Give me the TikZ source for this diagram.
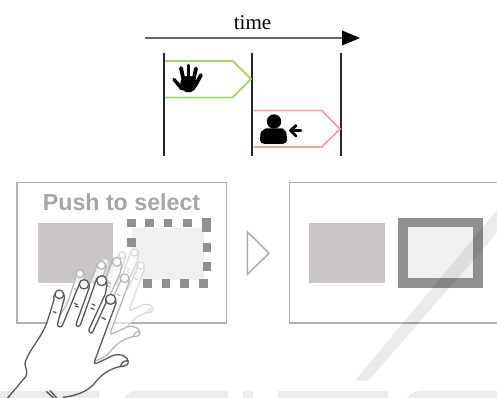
\documentclass[tikz,border=0pt]{standalone}
\usepackage{fontspec}
\setmainfont{Liberation Serif}
\newfontfamily\labelsans{Liberation Sans}
\definecolor{framegray}{HTML}{B0B0B0}
\definecolor{panelgray}{HTML}{C9C6C5}
\definecolor{lightpanel}{HTML}{F0F0F0}
\definecolor{selgray}{HTML}{909090}
\definecolor{labelgray}{HTML}{A6A6A6}
\definecolor{tgreen}{HTML}{A3D95B}
\definecolor{tred}{HTML}{F8A3A3}
\newcommand{\handoutline}{
 (22,685) -- (77,620) .. controls (88,600) and (68,590) .. (78,570)
 .. controls (95,530) and (125,500) .. (140,460) -- (162,390)
 .. controls (155,362) and (195,352) .. (193,385)
 -- (173,460) .. controls (170,473) and (186,475) .. (189,462)
 -- (237,345) .. controls (240,325) and (268,325) .. (268,352)
 -- (229,460) .. controls (226,472) and (240,473) .. (243,460)
 -- (287,335) .. controls (290,312) and (323,312) .. (321,345)
 -- (316,372) -- (267,478) .. controls (264,490) and (278,494) .. (280,482)
 -- (318,398) .. controls (310,370) and (350,370) .. (348,400)
 -- (285,570) .. controls (281,582) and (286,582) .. (294,578)
 -- (340,556) .. controls (365,550) and (385,560) .. (385,578)
 .. controls (382,590) and (368,588) .. (358,590)
 .. controls (325,598) and (305,615) .. (290,632)
 .. controls (270,660) and (240,675) .. (190,682)}
\newcommand{\handdetails}{
 \foreach \cx/\cy/\cr in {178/373/13,252/343/14,305/332/15,332/388/15}{
  \path[draw,fill=white] (\cx,\cy) circle[x radius=\cr,y radius=\cr];
 }
 \draw (362,590) .. controls (362,580) and (370,572) .. (384,572);
 \foreach \ax/\ay/\bx/\by in {160/425/168/428,223/400/232/404,276/402/284/406,272/414/282/418,306/443/316/448,226/408/235/411}{
  \draw (\ax,\ay) -- (\bx,\by);
 }
}
\tikzset{
 frame/.style={draw=framegray,line width=1.6pt,fill=white},
 dotsq/.style={fill=selgray,draw=none},
 vbar/.style={draw=black!85,line width=2pt},
 tagshape/.style={line width=1.9pt,fill=white},
 handline/.style={line width=1.3pt,line join=round,line cap=round},
 iconline/.style={draw=black,line cap=round,line join=round},
 wm/.style={fill=black,fill opacity=.08,draw=none}
}
\begin{document}
\begin{tikzpicture}[x=1pt,y=-1pt]
\useasboundingbox (0,0) rectangle (497,398);
% time axis
\coordinate (ts) at (145,38);
\coordinate (te) at (343,38);
\draw[line width=1.8pt,draw=black!60] (ts) -- (te);
\fill[black] (342,30.5) -- (360,38) -- (342,45.5) -- cycle;
\node[inner sep=0pt,font=\fontsize{21}{23}\selectfont] (timelabel) at (252.5,23) {time};
% vertical bars
\draw[vbar] (163.5,53) -- (163.5,156);
\draw[vbar] (252,53) -- (252,156);
\draw[vbar] (341,53) -- (341,156);
% tags
\draw[tagshape,draw=tgreen] (165,61) -- (232.7,61) -- (251,79) -- (232.7,97.5) -- (165,97.5);
\draw[tagshape,draw=tred] (253.5,110.5) -- (321.7,110.5) -- (340,129) -- (321.7,147) -- (253.5,147);
% hand icon
\fill[black] (188.5,84) circle[radius=8.3];
\begin{scope}[iconline,line width=3.8pt]
 \draw (181,68) -- (184,82);
 \draw (188.5,65.5) -- (188.5,80);
 \draw (196,68.5) -- (193,82);
 \draw (201,75) -- (195,86);
 \draw[line width=3.4pt] (174,79.5) -- (182,89);
\end{scope}
% person icon
\fill[black] (274,121.5) circle[radius=7.2];
\fill[black,rounded corners=4.5pt] (260,144) -- (260,137) .. controls (261,131) and (266,128.5) .. (270,128.5) -- (278,128.5) .. controls (282,128.5) and (286,131) .. (287,137) -- (287,144) -- cycle;
\draw[iconline,line width=2.8pt] (301,130.5) -- (292,130.5);
\draw[iconline,line width=2.8pt] (296,125.5) -- (290.5,130.5) -- (296,136);
% left screen
\draw[frame] (17,182.5) rectangle (226.5,323);
\node[inner sep=0pt,text=labelgray,font=\labelsans\bfseries\fontsize{23.2}{26}\selectfont] (pushlabel) at (121.5,202) {Push to select};
\fill[panelgray] (37.5,222.5) rectangle (112.5,283);
\fill[lightpanel] (132,228) rectangle (204,280);
\foreach \xa/\ya/\xb/\yb in {127/219/135.5/227,145/219/153.5/227,163.5/219/172/227,183/219/191.5/227,202/218/211/232,
 127/238/135.5/247,202.5/243/211/252,202.5/262/211/271,
 143/279/151.5/288,161.5/279/170/288,180/279/189/288,199/279/208/288}{
 \fill[dotsq] (\xa,\ya) rectangle (\xb,\yb);
}
% arrow between screens
\draw[draw=framegray,line width=1.6pt,line join=miter] (247.3,231.7) -- (269,253.3) -- (247.3,274.3) -- cycle;
% right screen
\draw[frame] (289.3,182.5) -- (500,182.5) (289.3,182.5) -- (289.3,323) -- (500,323);
\fill[panelgray] (309.3,222.5) rectangle (385,283.3);
\fill[selgray] (398.3,217.7) rectangle (483.3,287.7);
\fill[lightpanel] (408.3,227.3) rectangle (473.3,278.3);
% ghost hand, far
\begin{scope}[shift={(63.33,175)},x=.7/3*1pt,y=-.7/3*1pt,handline,draw=black!14,fill=white]
 \path[draw,fill=white,fill opacity=.6] \handoutline;
 \handdetails
\end{scope}
% ghost hand, near
\begin{scope}[shift={(28.33,165.67)},x=.87/3*1pt,y=-.87/3*1pt,handline,draw=black!28,fill=white]
 \path[draw,fill=white,fill opacity=.7] \handoutline;
 \handdetails
\end{scope}
% front hand
\begin{scope}[shift={(0,170)},x=1/3*1pt,y=-1/3*1pt,handline,draw=black!65,fill=white]
 \path[draw,fill=white] \handoutline;
 \handdetails
 \draw (140,665) -- (165,688);
 \draw (150,662) -- (176,690);
\end{scope}
% watermark
\fill[wm] (355,380.7) -- (497,210) -- (497,233) -- (368.3,380.7) -- cycle;
\fill[wm] (0,390.5) rectangle (99,398);
\fill[wm] (124,398) .. controls (128,392) and (133,390.5) .. (140,390.5) -- (228,390.5) -- (228,398) -- cycle;
\fill[wm] (243,390.5) rectangle (253,398);
\fill[wm] (278,390.5) rectangle (388,398);
\fill[wm] (407,398) .. controls (411,392) and (418,390.5) .. (425,390.5) -- (497,390.5) -- (497,398) -- cycle;
\end{tikzpicture}
\end{document}
